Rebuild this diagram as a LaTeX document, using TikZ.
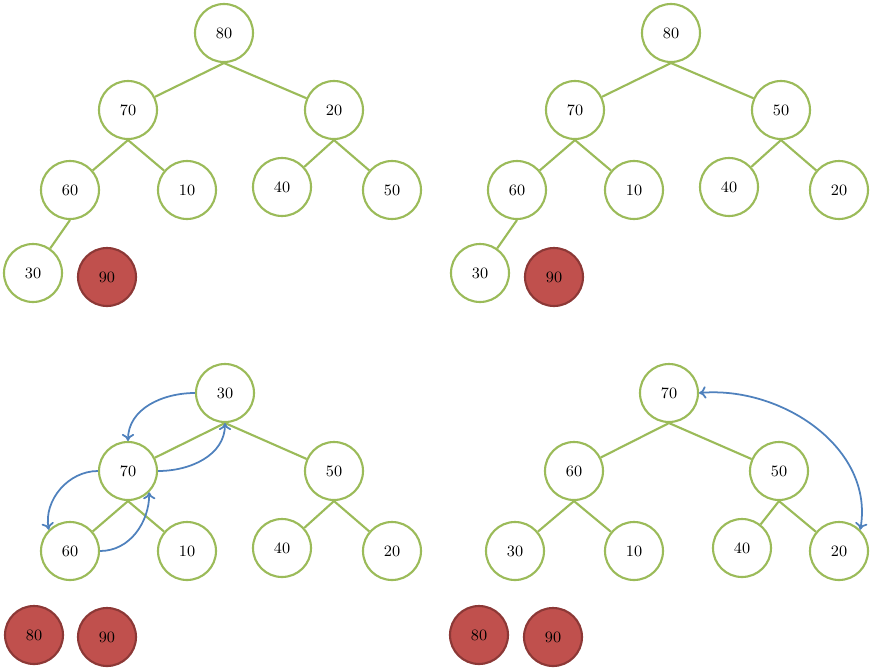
\documentclass[tikz,border=0pt]{standalone}
\usetikzlibrary{arrows.meta}
\definecolor{heapgreen}{RGB}{155,187,89}
\definecolor{heapred}{RGB}{192,80,77}
\definecolor{heapredline}{RGB}{140,56,54}
\definecolor{swapblue}{RGB}{79,129,189}
\tikzset{
  key/.style={circle,draw=heapgreen,line width=1.2pt,fill=white,minimum size=58\unitpx,inner sep=0pt,font=\small},
  done/.style={key,draw=heapredline,fill=heapred},
  edge/.style={draw=heapgreen,line width=1.2pt},
  swap/.style={draw=swapblue,line width=1pt,-{To[length=4pt,width=7pt]}}
}
\newlength{\unitpx}
\setlength{\unitpx}{0.02cm}
\begin{document}
\begin{tikzpicture}[x=0.02cm,y=-0.02cm]
  \useasboundingbox (0,0) rectangle (873,670);
  % tree one
  \node[key] (a80) at (224,33) {80};
  \node[key] (a70) at (128,110) {70};
  \node[key] (a20) at (334,110) {20};
  \node[key] (a60) at (70,190) {60};
  \node[key] (a10) at (187,190) {10};
  \node[key] (a40) at (282,187) {40};
  \node[key] (a50) at (392,190) {50};
  \node[key] (a30) at (33,273) {30};
  \node[done] (a90) at (107,277) {90};
  \draw[edge] (a80.south) -- (a70) (a80.south) -- (a20)
    (a70.south) -- (a60) (a70.south) -- (a10)
    (a20.south) -- (a40) (a20.south) -- (a50)
    (a60.south) -- (a30);
  % tree two
  \node[key] (b80) at (671,33) {80};
  \node[key] (b70) at (575,110) {70};
  \node[key] (b50) at (781,110) {50};
  \node[key] (b60) at (517,190) {60};
  \node[key] (b10) at (634,190) {10};
  \node[key] (b40) at (729,187) {40};
  \node[key] (b20) at (839,190) {20};
  \node[key] (b30) at (480,273) {30};
  \node[done] (b90) at (554,277) {90};
  \draw[edge] (b80.south) -- (b70) (b80.south) -- (b50)
    (b70.south) -- (b60) (b70.south) -- (b10)
    (b50.south) -- (b40) (b50.south) -- (b20)
    (b60.south) -- (b30);
  % tree three
  \node[key] (c30) at (225,393) {30};
  \node[key] (c70) at (128,471) {70};
  \node[key] (c50) at (334,471) {50};
  \node[key] (c60) at (70,551) {60};
  \node[key] (c10) at (187,551) {10};
  \node[key] (c40) at (282,548) {40};
  \node[key] (c20) at (392,551) {20};
  \node[done] (c80) at (34,635) {80};
  \node[done] (c90) at (107,637) {90};
  \draw[edge] (c30.south) -- (c70) (c30.south) -- (c50)
    (c70.south) -- (c60) (c70.south) -- (c10)
    (c50.south) -- (c40) (c50.south) -- (c20);
  \draw[swap] (c30.west) to[out=180,in=90] (c70.north);
  \draw[swap] (c70.east) to[out=0,in=270] (c30.south);
  \draw[swap] (c70.west) to[out=180,in=100] (c60.north west);
  \draw[swap] (c60.east) to[out=0,in=270] (c70.south east);
  % tree four
  \node[key] (d70) at (669,393) {70};
  \node[key] (d60) at (574,471) {60};
  \node[key] (d50) at (779,471) {50};
  \node[key] (d30) at (515,551) {30};
  \node[key] (d10) at (634,551) {10};
  \node[key] (d40) at (742,548) {40};
  \node[key] (d20) at (839,551) {20};
  \node[done] (d80) at (479,635) {80};
  \node[done] (d90) at (553,637) {90};
  \draw[edge] (d70.south) -- (d60) (d70.south) -- (d50)
    (d60.south) -- (d30) (d60.south) -- (d10)
    (d50.south) -- (d40) (d50.south) -- (d20);
  \draw[swap,{To[length=4pt,width=7pt]}-{To[length=4pt,width=7pt]}]
    (d70.east) to[out=5,in=80] (d20.north east);
\end{tikzpicture}
\end{document}
